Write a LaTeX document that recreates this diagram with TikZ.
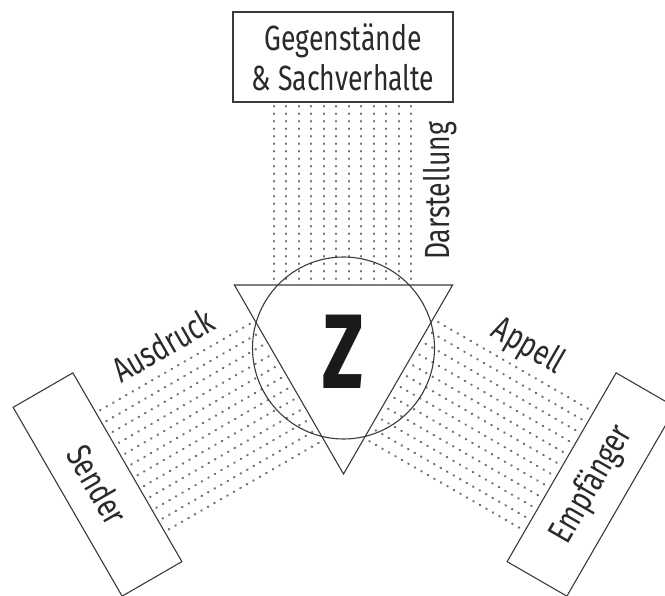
\documentclass[tikz,border=0pt]{standalone}
\usepackage{fontspec}
\setmainfont{Fira Sans}[FakeStretch=0.76]
\newfontfamily\zfont{Fira Sans}[FakeStretch=0.72]
\definecolor{inkc}{HTML}{3A3A3A}
\definecolor{textc}{HTML}{2A2A2A}
\definecolor{dotc}{HTML}{707070}
\definecolor{zc}{HTML}{1A1A1A}
\begin{document}
\begin{tikzpicture}[x=1pt,y=-1pt,
  font=\fontsize{35}{40}\selectfont,
  ink/.style={draw=inkc, line width=1.1pt},
  box/.style={ink, rectangle, fill=white, inner sep=0pt, align=center, text=textc},
  lbl/.style={text=textc, inner sep=0pt},
  dotline/.style={draw=dotc, line width=2.2pt, line cap=round, dash pattern=on 0.6pt off 6.9pt}]
\useasboundingbox (0,0) rectangle (665,596);
% dotted bands
\foreach \r in {0,120,-120}{
  \begin{scope}[rotate around={\r:(343.5,348)}]
    \foreach \i in {0,...,11}
      \draw[dotline] (273.75+\i*12.5,106) -- (273.75+\i*12.5,285);
  \end{scope}}
% circle and triangle
\node[ink, circle, minimum size=182pt, inner sep=0pt] (circ) at (343.5,348) {};
\draw[ink] (234.4,285) -- (452.6,285) -- (343.5,474) -- cycle;
\node[text=zc, inner sep=0pt] (z) at (343.5,351.5) {\zfont\bfseries\fontsize{106}{106}\selectfont Z};
% boxes
\node[box, minimum width=220pt, minimum height=90pt] (obj) at (343,57) {Gegenstände\\\& Sachverhalte};
\node[box, rotate=-60, minimum width=218pt, minimum height=69pt] (send) at (97.5,484.5) {Sender};
\node[box, rotate=60, minimum width=218pt, minimum height=69pt] (emp) at (591.5,484.5) {Empfänger};
% labels
\node[lbl, rotate=90] (dar) at (440,191) {Darstellung};
\node[lbl, rotate=30] (aus) at (163,345) {Ausdruck};
\node[lbl, rotate=-30] (app) at (528,347) {Appell};
\end{tikzpicture}
\end{document}
